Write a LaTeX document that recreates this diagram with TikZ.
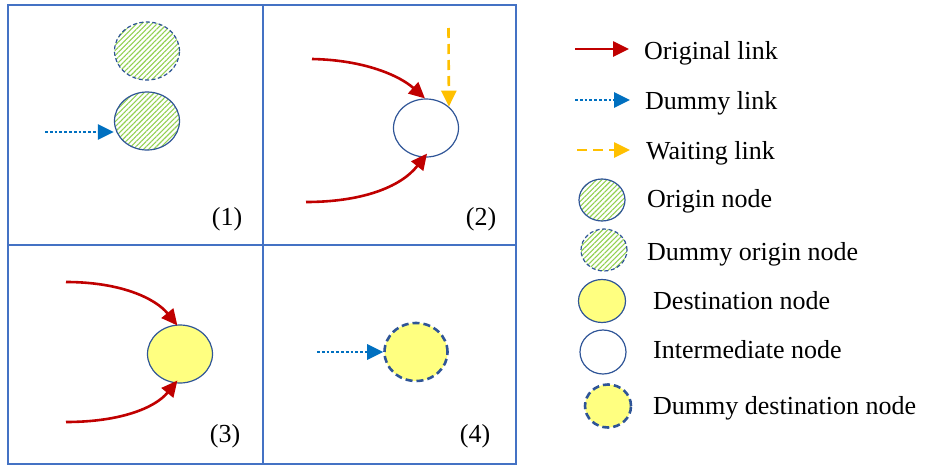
\documentclass[tikz,border=0pt]{standalone}
\usepackage{fontspec}
\setmainfont{Liberation Serif}
\usetikzlibrary{shapes.geometric,arrows.meta,patterns.meta}
\definecolor{boxblue}{HTML}{4472C4}
\definecolor{ringblue}{HTML}{2F5597}
\definecolor{linkred}{HTML}{C00000}
\definecolor{dummyblue}{HTML}{0070C0}
\definecolor{waitorange}{HTML}{FFC000}
\definecolor{hatchgreen}{HTML}{92D050}
\definecolor{destyellow}{HTML}{FFFF80}
\tikzset{
  panel/.style={draw=boxblue,line width=1.3pt},
  nd/.style={ellipse,minimum width=#1,minimum height=58pt,inner sep=0pt,draw=ringblue,line width=1.2pt},
  nd/.default=65pt,
  hatch/.style={pattern={Lines[angle=45,distance=3.6pt,line width=1.1pt]},pattern color=hatchgreen},
  dashring/.style={dash pattern=on 4pt off 2.5pt},
  thickdash/.style={line width=2.6pt,dash pattern=on 7pt off 4pt},
  destfill/.style={fill=destyellow},
  origl/.style={draw=linkred,line width=2.6pt,-{Triangle[length=16pt,width=15pt]}},
  dummyl/.style={draw=dummyblue,line width=2.8pt,dash pattern=on 2.8pt off 2pt,-{Triangle[length=16pt,width=15pt]}},
  waitl/.style={draw=waitorange,line width=2.6pt,dash pattern=on 10pt off 6pt,-{Triangle[length=16pt,width=15pt]}},
  lbl/.style={font=\fontsize{26}{30}\selectfont,anchor=base west,inner sep=0pt},
  plbl/.style={font=\fontsize{26}{30}\selectfont,anchor=base,inner sep=0pt},
}
\begin{document}
\begin{tikzpicture}[x=1pt,y=-1pt]
\useasboundingbox (0,0) rectangle (926,471);
% panels
\draw[panel] (8,5) rectangle (516,464);
\draw[panel] (263,5) -- (263,464);
\draw[panel] (8,245) -- (516,245);
% panel 1
\node[nd,hatch,dashring] (d1) at (147,51) {};
\node[nd,hatch] (o1) at (147,121) {};
\coordinate (s1) at (45,132);
\draw[dummyl] (s1) -- (s1 -| o1.west);
\node[plbl] (l1) at (227,225) {(1)};
% panel 2
\node[nd] (n2) at (426,128) {};
\coordinate (a2) at (312,59);
\coordinate (b2) at (306,202);
\coordinate (w2) at (448.5,28);
\draw[origl] (a2) .. controls (365,60) and (400,76) .. (n2.92);
\draw[origl] (b2) .. controls (360,202) and (400,188) .. ([yshift=4pt]n2.272);
\draw[waitl] (w2) -- (n2.43);
\node[plbl] (l2) at (481,225) {(2)};
% panel 3
\node[nd,destfill] (n3) at (180,354) {};
\coordinate (a3) at (66,282);
\coordinate (b3) at (66,422);
\draw[origl] (a3) .. controls (120,282) and (155,298) .. ([yshift=-1pt]n3.95);
\draw[origl] (b3) .. controls (120,422) and (155,408) .. ([yshift=3pt]n3.265);
\node[plbl] (l3) at (225,442) {(3)};
% panel 4
\node[nd=63pt,destfill,thickdash] (n4) at (416,352) {};
\coordinate (s4) at (317,352);
\draw[dummyl] (s4) -- (n4.west);
\node[plbl] (l4) at (475,442) {(4)};
% legend
\coordinate (la1) at (575,49);  \coordinate (lb1) at (629,49);
\draw[origl] (la1) -- (lb1);
\node[lbl] (t1) at (644,59) {Original link};
\coordinate (la2) at (575,100); \coordinate (lb2) at (630,100);
\draw[dummyl] (la2) -- (lb2);
\node[lbl] (t2) at (645,109) {Dummy link};
\coordinate (la3) at (577,150); \coordinate (lb3) at (630,150);
\draw[waitl] (la3) -- (lb3);
\node[lbl] (t3) at (646,159) {Waiting link};
\node[nd=46pt,minimum height=42pt,hatch] (e1) at (602,200) {};
\node[lbl] (t4) at (647,207) {Origin node};
\node[nd=46pt,minimum height=42pt,hatch,dashring] (e2) at (604,250) {};
\node[lbl] (t5) at (647,260) {Dummy origin node};
\node[nd=47pt,minimum height=43pt,destfill] (e3) at (602,301) {};
\node[lbl] (t6) at (653,309) {Destination node};
\node[nd=46pt,minimum height=44pt] (e4) at (603,352) {};
\node[lbl] (t7) at (653,358) {Intermediate node};
\node[nd=46pt,minimum height=43pt,destfill,thickdash] (e5) at (608,406) {};
\node[lbl] (t8) at (653,414) {Dummy destination node};
\end{tikzpicture}
\end{document}
